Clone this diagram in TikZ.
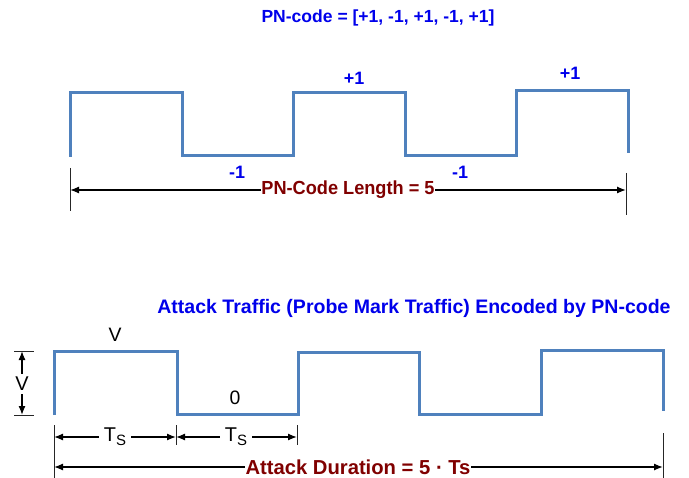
\documentclass[tikz,border=0pt]{standalone}
\usepackage{fontspec}
\setmainfont{Liberation Sans}
\usetikzlibrary{arrows.meta}
\definecolor{wavec}{RGB}{79,129,189}
\definecolor{pnblue}{RGB}{0,0,235}
\definecolor{dred}{RGB}{128,0,0}
\begin{document}
\begin{tikzpicture}[x=1bp,y=-1bp,
  wave/.style={draw=wavec,line width=3bp,line join=miter},
  dimline/.style={draw=black,line width=1.3bp,-{Latex[length=9bp,width=7bp]}},
  tickline/.style={draw=black!85,line width=0.9bp},
  bluelbl/.style={font=\bfseries\fontsize{18}{20}\selectfont,text=pnblue,inner sep=0pt},
  redlbl/.style={font=\bfseries\fontsize{19}{21}\selectfont,text=dred,inner sep=0.5bp},
  blklbl/.style={font=\fontsize{19.5}{21}\selectfont,text=black,inner sep=0pt},
  tslbl/.style={font=\fontsize{20}{22}\selectfont,text=black,inner sep=5bp}]
\useasboundingbox (0,0) rectangle (689,478);

% ---------- top: PN code ----------
\node[bluelbl,font=\bfseries\fontsize{17.6}{20}\selectfont] (pntitle) at (378,18) {PN-code = [+1, -1, +1, -1, +1]};
\draw[wave] (70,157) -- (70,93) -- (182,93) -- (182,156) -- (293,156) -- (293,93)
  -- (405,93) -- (405,156) -- (516,156) -- (516,91) -- (628,91) -- (628,153);
\node[bluelbl] (p1) at (354,78) {+1};
\node[bluelbl] (m1) at (237,172) {-1};
\node[bluelbl] (m2) at (460,172) {-1};
\node[bluelbl] (p2) at (570,73) {+1};

\coordinate (tl1) at (70,168); \coordinate (tl2) at (70,211);
\coordinate (tr1) at (626,173); \coordinate (tr2) at (626,215);
\draw[tickline] (tl1) -- (tl2);
\draw[tickline] (tr1) -- (tr2);
\coordinate (la) at (70,190); \coordinate (ra) at (626,190);
\node[redlbl] (pnlen) at (348,190) {\scalebox{0.96}[1]{PN-Code Length = 5}};
\draw[dimline] (pnlen.west) -- (la);
\draw[dimline] (pnlen.east) -- (ra);

% ---------- bottom: attack traffic ----------
\node[bluelbl,font=\bfseries\fontsize{19.6}{22}\selectfont] (attitle) at (414,308) {Attack Traffic (Probe Mark Traffic) Encoded by PN-code};
\draw[wave] (54,415) -- (54,351) -- (177,351) -- (177,414) -- (298,414) -- (298,352)
  -- (419,352) -- (419,414) -- (541,414) -- (541,350) -- (663,350) -- (663,411);
\node[blklbl] (vtop) at (115,335) {V};
\node[blklbl] (zero) at (235,398) {0};

% V dimension
\coordinate (vt1) at (14,351); \coordinate (vt2) at (34,351);
\coordinate (vb1) at (14,415); \coordinate (vb2) at (34,415);
\draw[tickline] (vt1) -- (vt2);
\draw[tickline] (vb1) -- (vb2);
\node[blklbl,font=\fontsize{20}{22}\selectfont,inner sep=3bp] (vlbl) at (22,384) {V};
\coordinate (vtop2) at (22,351); \coordinate (vbot2) at (22,415);
\draw[dimline] (vlbl.north) -- (vtop2);
\draw[dimline] (vlbl.south) -- (vbot2);

% Ts dimensions
\coordinate (a1) at (54,425); \coordinate (a2) at (54,478);
\coordinate (b1) at (176,425); \coordinate (b2) at (176,445);
\coordinate (c1) at (297,425); \coordinate (c2) at (297,445);
\coordinate (d1) at (663,433); \coordinate (d2) at (663,478);
\draw[tickline] (a1) -- (a2);
\draw[tickline] (b1) -- (b2);
\draw[tickline] (c1) -- (c2);
\draw[tickline] (d1) -- (d2);
\coordinate (ta) at (54,437); \coordinate (tb) at (176,437); \coordinate (tc) at (297,437);
\node[tslbl] (ts1) at (115,437) {T\raisebox{-0.35ex}{\fontsize{15}{15}\selectfont S}};
\node[tslbl] (ts2) at (236,437) {T\raisebox{-0.35ex}{\fontsize{15}{15}\selectfont S}};
\draw[dimline] (ts1.west) -- (ta);
\draw[dimline] (ts1.east) -- (tb);
\draw[dimline] (ts2.west) -- (tb);
\draw[dimline] (ts2.east) -- (tc);

% Attack duration
\coordinate (da) at (54,467); \coordinate (db) at (663,467);
\node[redlbl,font=\bfseries\fontsize{20.3}{22}\selectfont] (dur) at (358,467) {Attack Duration = 5 · Ts};
\draw[dimline] (dur.west) -- (da);
\draw[dimline] (dur.east) -- (db);
\end{tikzpicture}
\end{document}
